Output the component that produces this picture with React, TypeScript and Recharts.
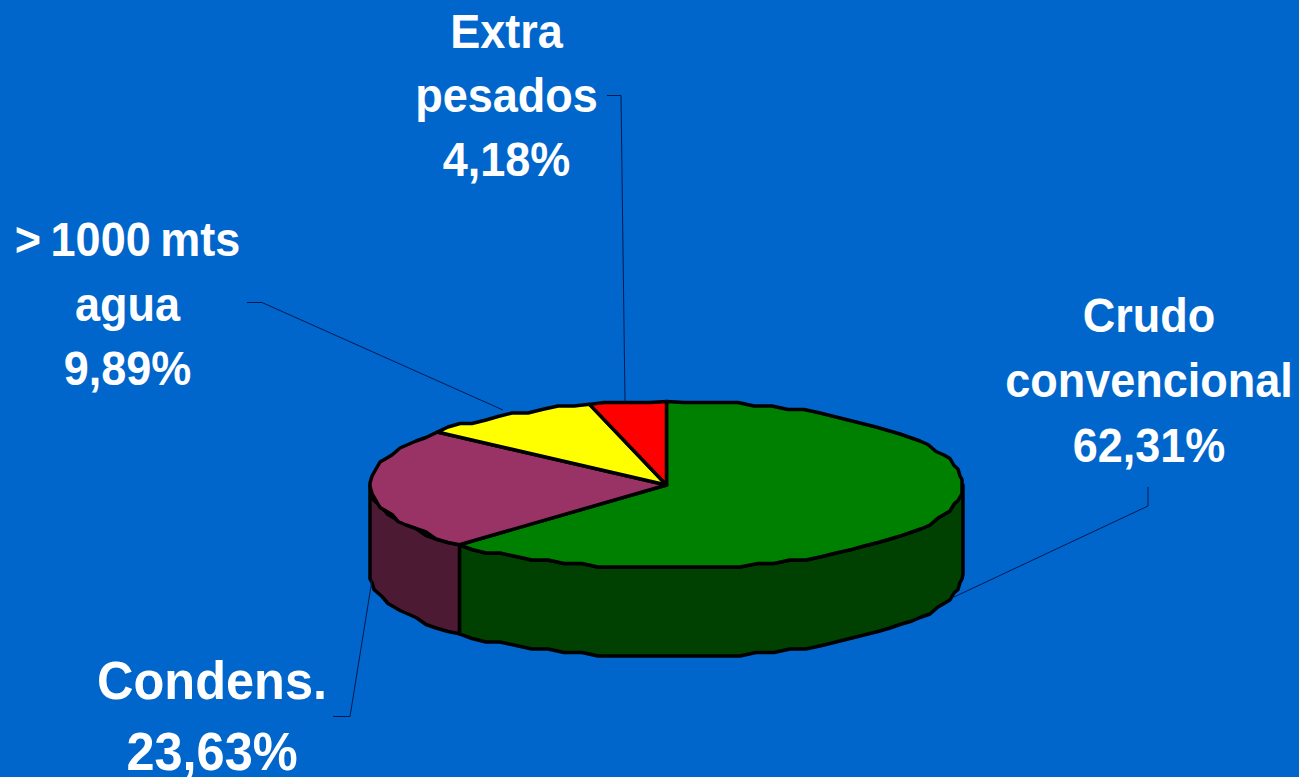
import React from "react";
import { PieChart, Pie } from "recharts";

const categories = ["Crudo convencional", "Condens.", "> 1000 mts agua", "Extra pesados"];
const shares = [62.31, 23.63, 9.89, 4.18];
const topColors = ["#008000", "#993366", "#FFFF00", "#FF0000"];
const wallColors = ["#004000", "#4D1A33", "#808000", "#800000"];
const labelLines = [["Crudo", "convencional"], ["Condens."], ["> 1000 mts", "agua"], ["Extra", "pesados"]];
const labelStyles = [
  { x: 1149, y: 332, size: 45, leading: 65 },
  { x: 212, y: 699, size: 50.5, leading: 70.5 },
  { x: 127.5, y: 256, size: 45, leading: 64.5 },
  { x: 506.5, y: 48, size: 45, leading: 64 },
];
const leaders = [
  "M1148 487 V506 L954 597",
  "M333 716.5 H350 L372 580",
  "M247 302.5 H262 L503 410",
  "M607 95.5 H621 L625 402",
];

const rows = categories.map((name, i) => ({
  name,
  value: shares[i],
  top: topColors[i],
  wall: wallColors[i],
}));

const WIDTH = 1299;
const HEIGHT = 777;
const CX = 666.5;
const CY = 485;
const RADIUS = 296.5;
const SQUASH = 83.5 / 296.5;
const DEPTH = 89;
const GLYPH_STRETCH = 1.07;

const percentText = (v: number) => `${v.toFixed(2).replace(".", ",")}%`;

const snapTo = (v: number, grid: number) => Math.round(v / grid) * grid;

// Rim points along the tilted disc, snapped to a coarse grid for a faceted edge.
function rim(cx: number, cy: number, r: number, from: number, to: number) {
  const steps = Math.max(1, Math.ceil(Math.abs(to - from) / 3.5));
  const pts: [number, number][] = [];
  for (let i = 0; i <= steps; i++) {
    const a = ((from + ((to - from) * i) / steps) * Math.PI) / 180;
    const x = cx + r * Math.cos(a);
    const y = cy - r * SQUASH * Math.sin(a);
    const exact = i === 0 || i === steps;
    pts.push(exact ? [x, y] : [snapTo(x, 2), snapTo(y, 3.5)]);
  }
  return pts;
}

const toPath = (pts: [number, number][]) => pts.map((p) => p.join(" ")).join(" L");

function TopFace(props: any) {
  const { cx, cy, outerRadius, startAngle, endAngle, payload } = props;
  const d = `M${cx} ${cy} L${toPath(rim(cx, cy, outerRadius, startAngle, endAngle))} Z`;
  return <path d={d} fill={payload.top} stroke="#000" strokeWidth={3.5} strokeLinejoin="round" />;
}

// Only the part of a slice's rim on the near half of the disc gets a wall.
function SideWall(props: any) {
  const { cx, cy, outerRadius, startAngle, endAngle, payload } = props;
  const from = Math.min(startAngle, 0);
  const to = Math.max(endAngle, -180);
  if (from <= to) return <g />;
  const edge = rim(cx, cy, outerRadius, from, to);
  const lower = edge.map(([x, y]) => [x, y + DEPTH] as [number, number]).reverse();
  const d = `M${toPath(edge)} L${toPath(lower)} Z`;
  return <path d={d} fill={payload.wall} stroke="#000" strokeWidth={3.5} strokeLinejoin="round" />;
}

function SliceLabel(props: any) {
  const { index, value } = props;
  const style = labelStyles[index];
  const lines = [...labelLines[index], percentText(value)];
  return (
    <g>
      {lines.map((line, i) => (
        <text
          key={line}
          transform={`translate(${style.x} ${style.y + i * style.leading}) scale(1 ${GLYPH_STRETCH})`}
          textAnchor="middle"
          fill="#FFFFFF"
          stroke="none"
          fontFamily="'Liberation Sans', Arial, sans-serif"
          fontWeight={700}
          fontSize={style.size}
          wordSpacing={line.startsWith(">") ? -3 : 0}
        >
          {line}
        </text>
      ))}
    </g>
  );
}

function LeaderLine(props: any) {
  return <path d={leaders[props.index]} fill="none" stroke="#001A4D" strokeWidth={1} />;
}

export default function App() {
  return (
    <div style={{ position: "absolute", left: 0, top: 0, width: WIDTH, height: HEIGHT, background: "#0066CC", overflow: "hidden" }}>
      <PieChart width={WIDTH} height={HEIGHT} margin={{ top: 0, right: 0, bottom: 0, left: 0 }}>
        <Pie
          data={rows}
          dataKey="value"
          cx={CX}
          cy={CY}
          outerRadius={RADIUS}
          startAngle={90}
          endAngle={-270}
          shape={SideWall}
          isAnimationActive={false}
        />
        <Pie
          data={rows}
          dataKey="value"
          cx={CX}
          cy={CY}
          outerRadius={RADIUS}
          startAngle={90}
          endAngle={-270}
          shape={TopFace}
          label={SliceLabel}
          labelLine={LeaderLine}
          isAnimationActive={false}
        />
      </PieChart>
    </div>
  );
}
